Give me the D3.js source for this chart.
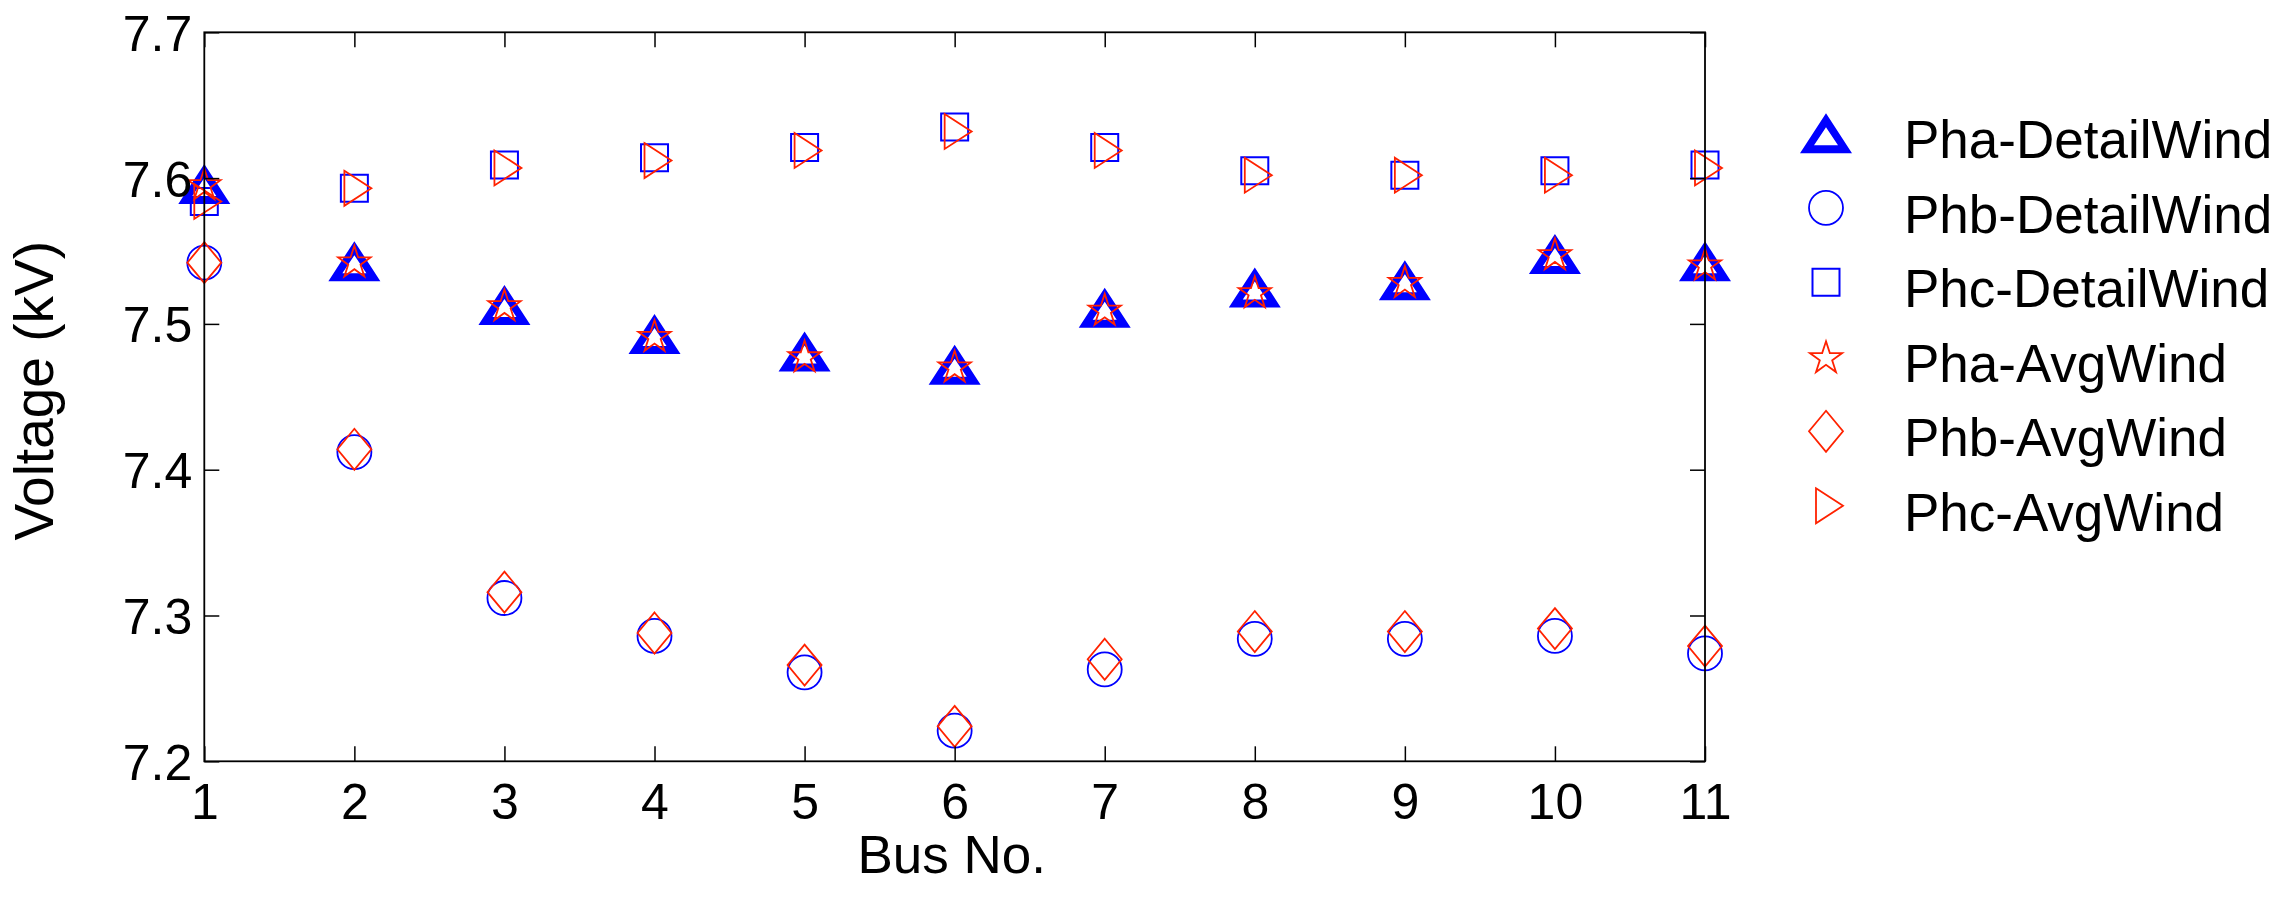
<!DOCTYPE html>
<html>
<head>
<meta charset="utf-8">
<script src="https://cdn.jsdelivr.net/npm/d3@7"></script>
<style>
  html, body { margin: 0; padding: 0; background: #fff; }
  svg { display: block; }
  text { font-family: "Liberation Sans", Arial, Helvetica, sans-serif; fill: #000; }
</style>
</head>
<body>
<svg id="chart" width="2286" height="900"></svg>
<script>
// ---------------- data ----------------
const buses = [1, 2, 3, 4, 5, 6, 7, 8, 9, 10, 11];
const phaDetail = [7.596, 7.543, 7.513, 7.493, 7.481, 7.472, 7.511, 7.525, 7.530, 7.548, 7.543];
const phbDetail = [7.542, 7.412, 7.312, 7.286, 7.261, 7.221, 7.263, 7.284, 7.284, 7.286, 7.274];
const phcDetail = [7.584, 7.593, 7.609, 7.614, 7.621, 7.635, 7.621, 7.605, 7.602, 7.605, 7.609];
const phaAvg    = [7.596, 7.543, 7.513, 7.492, 7.478, 7.471, 7.510, 7.522, 7.529, 7.548, 7.541];
const phbAvg    = [7.542, 7.414, 7.316, 7.288, 7.266, 7.224, 7.270, 7.289, 7.289, 7.291, 7.279];
const phcAvg    = [7.584, 7.593, 7.607, 7.612, 7.619, 7.632, 7.619, 7.602, 7.602, 7.602, 7.607];
const seriesNames = ["Pha-DetailWind", "Phb-DetailWind", "Phc-DetailWind", "Pha-AvgWind", "Phb-AvgWind", "Phc-AvgWind"];
const xTicks = [1, 2, 3, 4, 5, 6, 7, 8, 9, 10, 11];
const yTicks = [7.2, 7.3, 7.4, 7.5, 7.6, 7.7];
const xLabel = "Bus No.";
const yLabel = "Voltage (kV)";

// ---------------- marker shapes ----------------
const BLUE = "#0000ff", RED = "#ff2200";
function starPath(Rr) {
  const r = Rr * 0.382; let p = "";
  for (let i = 0; i < 10; i++) {
    const rad = i % 2 === 0 ? Rr : r;
    const a = -Math.PI / 2 + i * Math.PI / 5;
    p += (i === 0 ? "M" : "L") + (rad * Math.cos(a)).toFixed(2) + "," + (rad * Math.sin(a)).toFixed(2);
  }
  return p + "Z";
}
const markers = {
  thickTri: { d: "M0,-20L26,20L-26,20ZM0,-6L12,12L-12,12Z", fill: BLUE, stroke: "none", sw: 0, rule: "evenodd" },
  circle:   { d: d3.arc()({innerRadius: 0, outerRadius: 17, startAngle: 0, endAngle: 2 * Math.PI}), fill: "none", stroke: BLUE, sw: 1.8 },
  square:   { d: "M-13.5,-13.5H13.5V13.5H-13.5Z", fill: "none", stroke: BLUE, sw: 2 },
  star:     { d: starPath(17), fill: "none", stroke: RED, sw: 1.8, dy: 1.5 },
  diamond:  { d: "M0,-20.5L17,0L0,20.5L-17,0Z", fill: "none", stroke: RED, sw: 1.8 },
  rightTri: { d: "M-10,-17.5L17,0L-10,17.5Z", fill: "none", stroke: RED, sw: 1.8 }
};
const series = [
  { name: seriesNames[0], values: phaDetail, m: markers.thickTri },
  { name: seriesNames[1], values: phbDetail, m: markers.circle },
  { name: seriesNames[2], values: phcDetail, m: markers.square },
  { name: seriesNames[3], values: phaAvg,    m: markers.star },
  { name: seriesNames[4], values: phbAvg,    m: markers.diamond },
  { name: seriesNames[5], values: phcAvg,    m: markers.rightTri }
];

// ---------------- layout ----------------
const svg = d3.select("#chart");
const pL = 204.3, pR = 1705, pT = 32.3, pB = 761.3;
const x = d3.scaleLinear().domain([1, 11]).range([pL, pR]);
const y = d3.scaleLinear().domain([7.2, 7.7]).range([pB, pT]);
const tickLen = 15;
const fontTick = 50, fontXLabel = 53, fontYLabel = 55, fontLegend = 53;

// markers
const plot = svg.append("g");
series.forEach(s => {
  plot.append("g").selectAll("path")
    .data(buses.map((b, i) => ({ b, v: s.values[i] })))
    .join("path")
    .attr("d", s.m.d)
    .attr("transform", d => `translate(${x(d.b)},${y(d.v) + (s.m.dy || 0)})`)
    .attr("fill", s.m.fill)
    .attr("fill-rule", s.m.rule || "nonzero")
    .attr("stroke", s.m.stroke)
    .attr("stroke-width", s.m.sw)
    .attr("stroke-linejoin", "miter");
});

// axes (box with inward ticks on all sides)
const axG = svg.append("g");
const axBottom = axG.append("g").attr("transform", `translate(0,${pB})`)
  .call(d3.axisBottom(x).tickValues(xTicks).tickSizeInner(-tickLen).tickSizeOuter(0).tickPadding(22).tickFormat(d3.format("d")));
axG.append("g").attr("transform", `translate(0,${pT})`)
  .call(d3.axisTop(x).tickValues(xTicks).tickSizeInner(-tickLen).tickSizeOuter(0).tickFormat(""));
const axLeft = axG.append("g").attr("transform", `translate(${pL},0)`)
  .call(d3.axisLeft(y).tickValues(yTicks).tickSizeInner(-tickLen).tickSizeOuter(0).tickPadding(12).tickFormat(d3.format(".1f")));
axG.append("g").attr("transform", `translate(${pR},0)`)
  .call(d3.axisRight(y).tickValues(yTicks).tickSizeInner(-tickLen).tickSizeOuter(0).tickFormat(""));

axG.selectAll(".domain").remove();
axG.selectAll(".tick line").attr("stroke", "#000").attr("stroke-width", 1.5);
axG.append("rect").attr("x", pL).attr("y", pT).attr("width", pR - pL).attr("height", pB - pT)
  .attr("fill", "none").attr("stroke", "#000").attr("stroke-width", 1.8);

axBottom.selectAll(".tick text").attr("font-size", fontTick).attr("font-family", "Liberation Sans, Arial, sans-serif").attr("fill", "#000").attr("dy", "0.71em");
axLeft.selectAll(".tick text").attr("font-size", fontTick).attr("font-family", "Liberation Sans, Arial, sans-serif").attr("fill", "#000").attr("dy", "0.36em");

// axis labels
svg.append("text").attr("x", (pL + pR) / 2 - 3).attr("y", 873)
  .attr("text-anchor", "middle").attr("font-size", fontXLabel).text(xLabel);
svg.append("text").attr("transform", `translate(53,${(pT + pB) / 2 - 6}) rotate(-90)`)
  .attr("text-anchor", "middle").attr("font-size", fontYLabel).text(yLabel);

// legend
const leg = svg.append("g");
const legMarkerX = 1826, legTextX = 1904, legBase0 = 158.3, legStep = 74.5;
series.forEach((s, i) => {
  const base = legBase0 + i * legStep;
  leg.append("path").attr("d", s.m.d)
    .attr("transform", `translate(${legMarkerX},${base - 25 + (s.m.dy || 0)})`)
    .attr("fill", s.m.fill).attr("fill-rule", s.m.rule || "nonzero")
    .attr("stroke", s.m.stroke).attr("stroke-width", s.m.sw);
  leg.append("text").attr("x", legTextX).attr("y", base).attr("font-size", fontLegend).text(s.name);
});
</script>
</body>
</html>
